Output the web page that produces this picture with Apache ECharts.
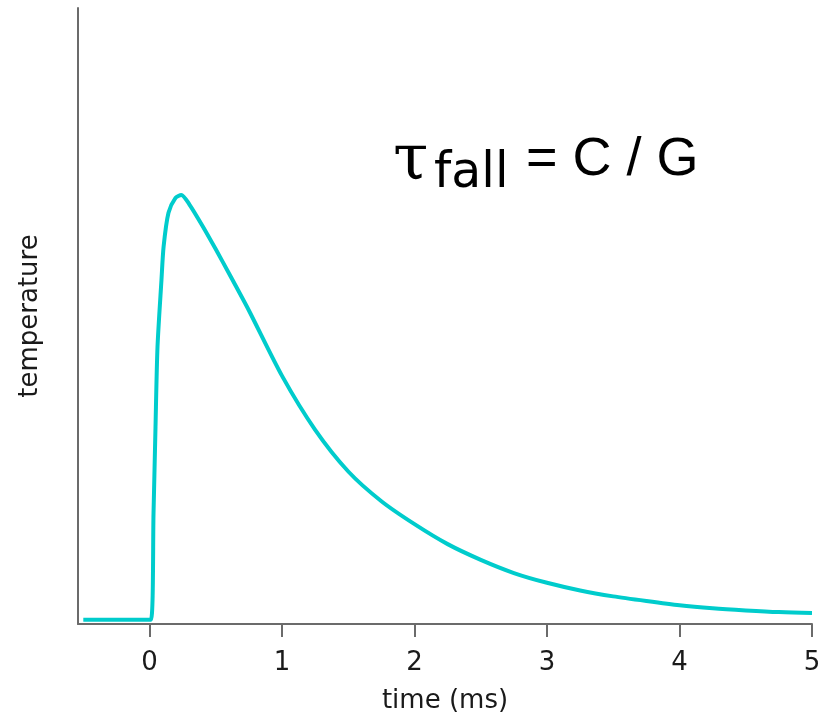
<!DOCTYPE html>
<html>
<head>
<meta charset="utf-8">
<script src="https://cdn.jsdelivr.net/npm/echarts@6/dist/echarts.min.js"></script>
<style>
  html, body { margin: 0; padding: 0; background: #fff; }
  #chart { width: 828px; height: 715px; }
</style>
</head>
<body>
<div id="chart"></div>
<script>
// time in ms
const timeMs = [-0.5, 0.01, 0.03, 0.045, 0.06, 0.09, 0.106, 0.143, 0.196, 0.24, 0.30, 0.40, 0.50, 0.60, 0.75, 1.0, 1.25, 1.5, 1.75, 2.0, 2.25, 2.5, 2.75, 3.0, 3.25, 3.5, 3.75, 4.0, 4.25, 4.5, 4.75, 5.0];
// temperature, normalised so the peak is 1
const temperature = [0, 0, 0.25, 0.454, 0.642, 0.80, 0.878, 0.958, 0.993, 1.0, 0.978, 0.927, 0.872, 0.815, 0.728, 0.574, 0.447, 0.349, 0.279, 0.225, 0.178, 0.141, 0.110, 0.087, 0.069, 0.055, 0.044, 0.034, 0.027, 0.022, 0.018, 0.016];
const xTicks = [0, 1, 2, 3, 4, 5];

const myChart = echarts.init(document.getElementById("chart"));
const axisGray = "#6b6b6b";

const option = {
  backgroundColor: "#fff",
  animation: false,
  grid: {
    left: 78,
    right: 16,
    top: 8,
    bottom: 91,
    outerBoundsMode: "none",
  },
  xAxis: {
    type: "value",
    min: -0.54,
    max: 5,
    name: "time (ms)",
    nameLocation: "middle",
    nameGap: 64,
    nameTextStyle: {
      fontFamily: "DejaVu Sans",
      fontSize: 26,
      color: "#1a1a1a",
    },
    axisLine: {
      onZero: false,
      lineStyle: { color: axisGray, width: 2 },
    },
    axisTick: {
      show: true,
      length: 13,
      customValues: xTicks,
      lineStyle: { color: axisGray, width: 2 },
    },
    axisLabel: {
      customValues: xTicks,
      margin: 26,
      fontFamily: "DejaVu Sans",
      fontSize: 26,
      color: "#1a1a1a",
    },
    splitLine: { show: false },
  },
  yAxis: {
    type: "value",
    min: -0.01,
    max: 1.44,
    name: "temperature",
    nameLocation: "middle",
    nameGap: 35,
    nameRotate: 90,
    nameTextStyle: {
      fontFamily: "DejaVu Sans",
      fontSize: 26,
      color: "#1a1a1a",
    },
    axisLine: {
      show: true,
      onZero: false,
      lineStyle: { color: axisGray, width: 2 },
    },
    axisTick: { show: false },
    axisLabel: { show: false },
    splitLine: { show: false },
  },
  graphic: [
    {
      type: "text",
      left: 393,
      top: 130,
      style: {
        text: "τ",
        font: "64px 'DejaVu Serif'",
        fill: "#000",
      },
    },
    {
      type: "text",
      left: 434,
      top: 150,
      style: {
        text: "fall",
        font: "49px 'DejaVu Sans'",
        fill: "#000",
      },
    },
    {
      type: "text",
      left: 526,
      top: 133,
      style: {
        text: "= C / G",
        font: "54px 'Liberation Sans'",
        fill: "#000",
      },
    },
  ],
  series: [
    {
      type: "line",
      data: timeMs.map((t, i) => [t, temperature[i]]),
      smooth: 0.25,
      showSymbol: false,
      lineStyle: { color: "#00cccc", width: 4 },
    },
  ],
};
// 绘制图表
myChart.setOption(option);
</script>
</body>
</html>
